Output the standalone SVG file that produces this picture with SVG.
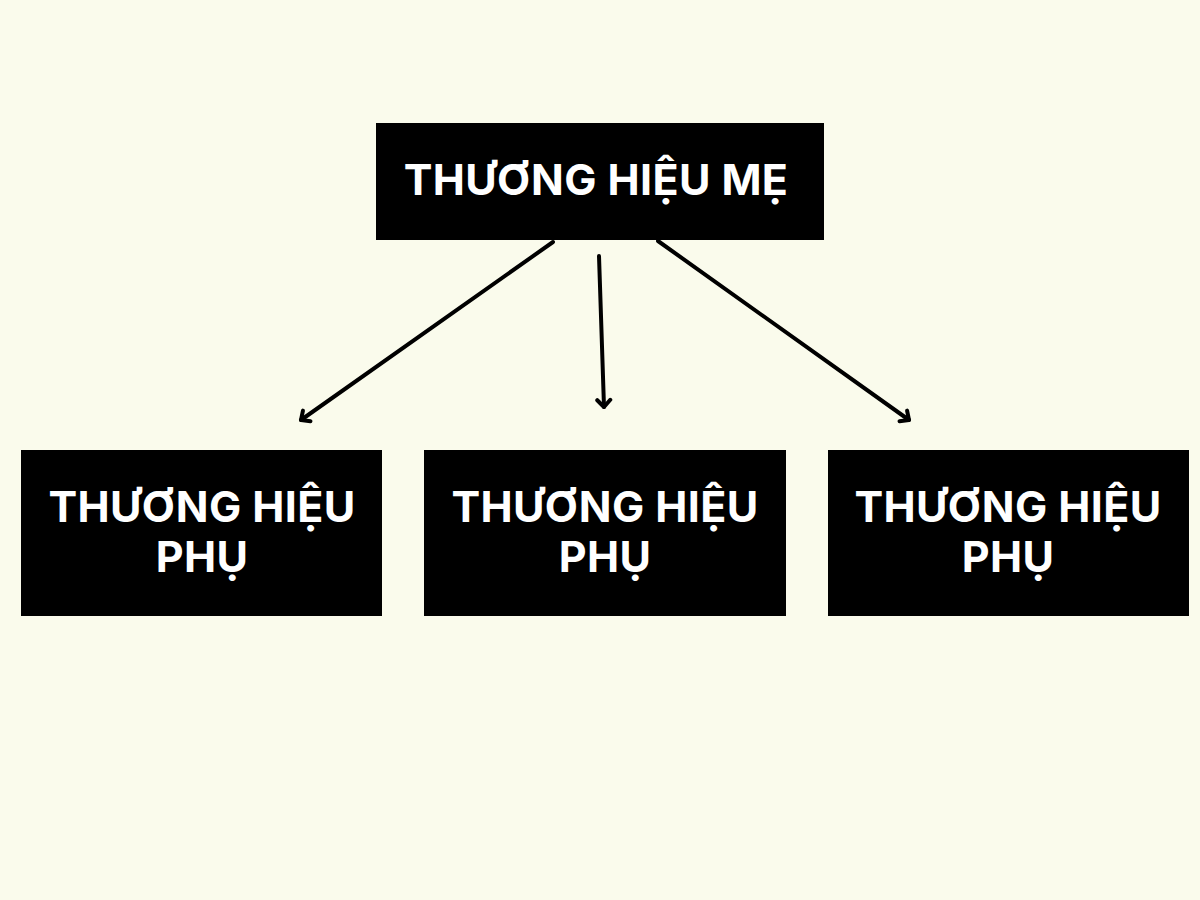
<svg xmlns="http://www.w3.org/2000/svg" width="1200" height="900" viewBox="0 0 1200 900">
<style>
.box{fill:#000000}
.lbl{fill:#ffffff;font-family:Inter,"Noto Sans","DejaVu Sans",sans-serif;font-weight:700;font-size:43px;letter-spacing:0.4px;text-anchor:middle}
.conn{stroke:#000000;stroke-width:4;fill:none;stroke-linecap:round}
</style>
<defs>
<marker id="arr" viewBox="0 0 16 18" refX="12" refY="9" markerWidth="16" markerHeight="18" markerUnits="userSpaceOnUse" orient="auto">
<path d="M5,2.5 L12,9 L5,15.5" fill="none" stroke="#000" stroke-width="4" stroke-linecap="round" stroke-linejoin="round"/>
</marker>
</defs>
<rect width="1200" height="900" fill="#FAFBEC"/>
<g id="parent">
<rect class="box" x="376" y="123" width="448" height="117"/>
<text class="lbl" x="596" y="195">THƯƠNG HIỆU MẸ</text>
</g>
<g id="child1">
<rect class="box" x="21" y="450" width="361" height="166"/>
<text class="lbl" x="202" y="522">THƯƠNG HIỆU</text>
<text class="lbl" x="202" y="572">PHỤ</text>
</g>
<g id="child2">
<rect class="box" x="424" y="450" width="362" height="166"/>
<text class="lbl" x="605" y="522">THƯƠNG HIỆU</text>
<text class="lbl" x="605" y="572">PHỤ</text>
</g>
<g id="child3">
<rect class="box" x="828" y="450" width="361" height="166"/>
<text class="lbl" x="1008" y="522">THƯƠNG HIỆU</text>
<text class="lbl" x="1008" y="572">PHỤ</text>
</g>
<g id="connectors">
<line class="conn" x1="553" y1="242" x2="301" y2="420" marker-end="url(#arr)"/>
<line class="conn" x1="599" y1="256" x2="604" y2="407" marker-end="url(#arr)"/>
<line class="conn" x1="658" y1="241" x2="909" y2="420" marker-end="url(#arr)"/>
</g>
</svg>
